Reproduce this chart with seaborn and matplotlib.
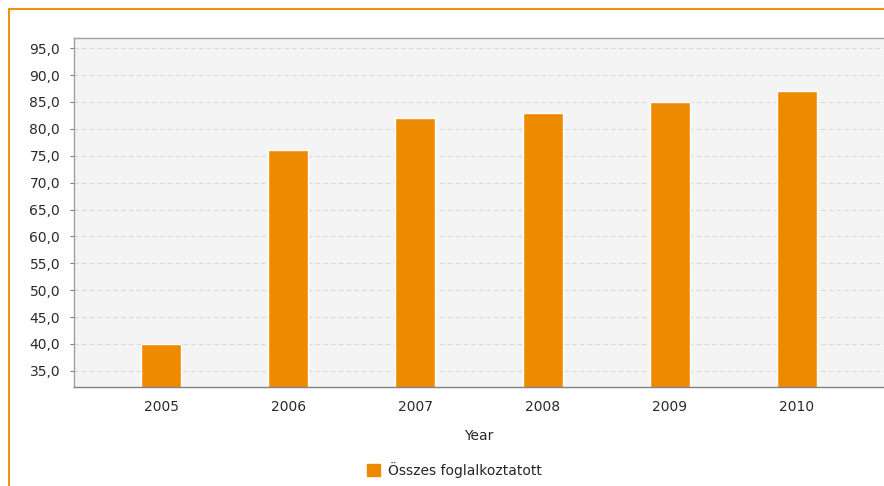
import numpy as np
import pandas as pd
import seaborn as sns
import matplotlib.pyplot as plt
from matplotlib.lines import Line2D
from matplotlib.ticker import FuncFormatter, MultipleLocator

# data
years = ["2005", "2006", "2007", "2008", "2009", "2010"]
values = [40.0, 76.0, 82.0, 83.0, 85.0, 87.0]
series_name = "Összes foglalkoztatott"

df = pd.DataFrame({"Year": years, "value": values, "series": series_name})

sns.set_theme(style="white")
plt.rcParams['font.family'] = ['DejaVu Sans']

orange = "#ee8a00"
txt = "#2a2a2a"

fig = plt.figure(figsize=(8.84, 4.86), dpi=100)
ax = fig.add_axes([74 / 884, 1 - 387 / 486, 1 - 74 / 884, (387 - 38) / 486])
ax.set_facecolor("#f4f4f4")

sns.barplot(data=df, x="Year", y="value", hue="series", palette=[orange],
            width=0.315, ax=ax, legend=False, saturation=1)

ax.set_ylim(32.0, 96.9)
ax.set_xlim(-0.685, 5.685)
ax.yaxis.set_major_locator(MultipleLocator(5))
ax.yaxis.set_major_formatter(FuncFormatter(lambda v, p: f"{v:.1f}".replace(".", ",")))
ax.grid(axis="y", color="#d9d9d9", linestyle=(0, (4, 3)), linewidth=0.8)
ax.set_axisbelow(True)

for s in ["left", "bottom", "top"]:
    ax.spines[s].set_color("#a0a0a0")
    ax.spines[s].set_linewidth(1.0)
ax.spines["bottom"].set_color("#808080")
ax.spines["right"].set_visible(False)

ax.tick_params(axis="y", left=True, length=3, width=0.8, color="#808080",
               labelsize=10, pad=7, labelcolor=txt)
ax.tick_params(axis="x", bottom=False, labelsize=10, pad=3, labelcolor=txt)
ax.set_ylabel("")
ax.set_xlabel("Year", fontsize=10, labelpad=11, color=txt)

# legend below the chart
handle = plt.Rectangle((0, 0), 1, 1, color=orange)
fig.legend([handle], [series_name], loc="center", bbox_to_anchor=(0.514, 0.033),
           frameon=False, handlelength=0.9, handleheight=0.9,
           handletextpad=0.6, prop={"size": 10})

# orange frame of the page (cut at right and bottom)
fig.add_artist(Line2D([8.5 / 884, 8.5 / 884], [0, 1 - 9 / 486],
                      transform=fig.transFigure, color="#f0920f", linewidth=1.5))
fig.add_artist(Line2D([8.5 / 884, 1], [1 - 9 / 486, 1 - 9 / 486],
                      transform=fig.transFigure, color="#f0920f", linewidth=1.5))

fig.savefig("out.png", dpi=100, facecolor="white")
